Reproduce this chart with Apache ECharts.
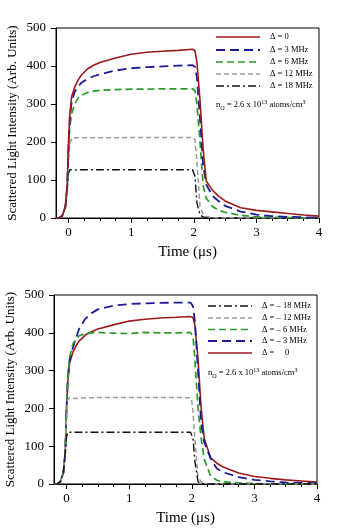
<!DOCTYPE html>
<html>
<head>
<meta charset="utf-8">
<script src="https://cdn.jsdelivr.net/npm/echarts@6/dist/echarts.min.js"></script>
<style>
  html, body { margin: 0; padding: 0; background: #fff; }
  #chart { width: 350px; height: 529px; }
</style>
</head>
<body>
<div id="chart"></div>
<script>
// Scattered light vs time, two detuning panels
var times = [-0.2, -0.15, -0.1, -0.05, -0.02, 0, 0.02, 0.05, 0.1, 0.15, 0.2, 0.3, 0.4, 0.5, 0.75,
  1, 1.25, 1.5, 1.75, 1.98, 2, 2.02, 2.05, 2.1, 2.15, 2.2, 2.3, 2.4, 2.5, 2.75, 3, 3.25, 3.5, 3.75, 4];

// top panel: positive detuning
var topD0  = [0, 0, 6, 30, 85, 200, 270, 320, 345, 362, 375, 392, 402, 409, 421,
  431, 436, 439, 441, 444, 445, 440, 410, 310, 180, 97, 73, 57, 45, 27, 20, 16, 12, 8, 5];
var topD3  = [0, 0, 6, 30, 85, 190, 260, 305, 333, 345, 355, 366, 373, 378, 388,
  394, 397, 399, 401, 402, 401, 398, 370, 260, 140, 88, 58, 44, 32, 17, 9, 5, 3, 2, 1];
var topD6  = [0, 0, 6, 30, 85, 180, 240, 275, 300, 315, 322, 330, 334, 336, 338,
  339, 339, 340, 340, 340, 339, 335, 300, 200, 85, 52, 30, 20, 15, 7, 3, 2, 1, 0.5, 0];
var topD12 = [0, 0, 6, 30, 85, 150, 195, 210, 211, 211, 211, 211, 211, 211, 211,
  212, 212, 212, 212, 212, 210, 205, 150, 30, 10, 4, 1, 0, 0, 0, 0, 0, 0, 0, 0];
var topD18 = [0, 0, 6, 30, 80, 118, 127, 126, 126, 127, 127, 127, 127, 127, 127,
  127, 127, 127, 127, 127, 127, 110, 40, 8, 3, 1, 0, 0, 0, 0, 0, 0, 0, 0, 0];

// bottom panel: negative detuning
var botM18 = [0, 0, 6, 30, 85, 125, 137, 137, 137, 137, 137, 137, 137, 137, 137,
  137, 137, 137, 137, 137, 137, 120, 60, 6, 1, 0, 0, 0, 0, 0, 0, 0, 0, 0, 0];
var botM12 = [0, 0, 6, 30, 85, 170, 222, 229, 227, 226, 227, 228, 228, 229, 229,
  229, 229, 229, 229, 228, 220, 190, 120, 20, 5, 2, 0, 0, 0, 0, 0, 0, 0, 0, 0];
var botM6  = [0, 0, 6, 30, 85, 200, 280, 335, 370, 383, 392, 398, 400, 401, 399,
  398, 401, 400, 400, 401, 398, 390, 330, 200, 120, 65, 22, 10, 6, 3, 1, 0.5, 0, 0, 0];
var botM3  = [0, 0, 6, 30, 85, 200, 280, 330, 360, 385, 410, 437, 452, 462, 472,
  476, 478, 479, 480, 480, 478, 470, 430, 300, 160, 110, 68, 41, 31, 18, 11, 7, 4, 3, 2];
var botD0  = [0, 0, 6, 30, 85, 195, 270, 320, 348, 365, 378, 394, 403, 410, 421,
  431, 436, 439, 441, 443, 444, 440, 420, 330, 200, 120, 70, 55, 45, 29, 20, 15, 11, 8, 5];

var xMajor = [0, 1, 2, 3, 4];
var xMinor = [0.25, 0.5, 0.75, 1.25, 1.5, 1.75, 2.25, 2.5, 2.75, 3.25, 3.5, 3.75];

var serif = '"Liberation Serif", "DejaVu Serif", serif';

var styles = {
  d0:  { color: '#9c1a1a', width: 1.6, type: 'solid' },
  d3:  { color: '#1c1c9a', width: 1.8, type: [9, 5] },
  d6:  { color: '#2a9a2a', width: 1.7, type: [7, 4] },
  d12: { color: '#9a9a9a', width: 1.5, type: [5, 3] },
  d18: { color: '#111111', width: 1.4, type: [8, 3, 2, 3] }
};

var topSeries = [
  { name: 'Δ = 0', data: topD0, st: 'd0' },
  { name: 'Δ = 3 MHz', data: topD3, st: 'd3' },
  { name: 'Δ = 6 MHz', data: topD6, st: 'd6' },
  { name: 'Δ = 12 MHz', data: topD12, st: 'd12' },
  { name: 'Δ = 18 MHz', data: topD18, st: 'd18' }
];
var botSeries = [
  { name: 'Δ = – 18 MHz', data: botM18, st: 'd18' },
  { name: 'Δ = – 12 MHz', data: botM12, st: 'd12' },
  { name: 'Δ = – 6 MHz', data: botM6, st: 'd6' },
  { name: 'Δ = – 3 MHz', data: botM3, st: 'd3' },
  { name: 'Δ =     0', data: botD0, st: 'd0' }
];

function pairs(vals) {
  return times.map(function(t, i) { return [t, vals[i]]; });
}

function makeSeries(list, idx) {
  // draw in reverse so the first legend entry ends on top
  return list.slice().reverse().map(function(s) {
    var st = styles[s.st];
    return {
      name: s.name,
      type: 'line',
      xAxisIndex: idx * 2,
      yAxisIndex: idx,
      data: pairs(s.data),
      showSymbol: false,
      silent: true,
      lineStyle: { color: st.color, width: st.width, type: st.type },
      z: 3
    };
  });
}

function xAxisMain(gi) {
  return {
    type: 'value', gridIndex: gi, min: -0.2, max: 4,
    axisLine: { show: true, onZero: false, lineStyle: { color: '#000', width: 1 } },
    axisTick: { show: true, customValues: xMajor, length: 5, lineStyle: { color: '#000' } },
    axisLabel: { customValues: xMajor, color: '#000', fontFamily: serif, fontSize: 13, margin: 8 },
    splitLine: { show: false },
    name: 'Time (μs)', nameLocation: 'middle', nameGap: 27, nameMoveOverlap: false,
    nameTextStyle: { color: '#000', fontFamily: serif, fontSize: 15 }
  };
}
function xAxisMinor(gi) {
  return {
    type: 'value', gridIndex: gi, min: -0.2, max: 4, position: 'bottom',
    axisLine: { show: false, onZero: false },
    axisTick: { show: true, customValues: xMinor, length: 3, lineStyle: { color: '#000' } },
    axisLabel: { show: false },
    splitLine: { show: false }
  };
}
function yAxisMain(gi) {
  return {
    type: 'value', gridIndex: gi, min: 0, max: 500, interval: 100,
    axisLine: { show: true, onZero: false, lineStyle: { color: '#000', width: 1 } },
    axisTick: { show: true, length: 5, lineStyle: { color: '#000' } },
    axisLabel: { color: '#000', fontFamily: serif, fontSize: 13, margin: 10 },
    splitLine: { show: false },
    name: 'Scattered Light Intensity (Arb. Units)', nameLocation: 'middle', nameGap: 37,
    nameMoveOverlap: false,
    nameTextStyle: { color: '#000', fontFamily: serif, fontSize: 13 }
  };
}

function legendGraphics(list, x0, x1, tx, rows, ny) {
  var els = [];
  list.forEach(function(s, i) {
    var st = styles[s.st];
    els.push({
      type: 'line', silent: true,
      shape: { x1: x0, y1: rows[i], x2: x1, y2: rows[i] },
      style: { stroke: st.color, lineWidth: st.width, lineDash: st.type === 'solid' ? null : st.type }
    });
    els.push({
      type: 'text', silent: true, x: tx, y: rows[i],
      style: { text: s.name, fill: '#000', font: '8.5px ' + serif, verticalAlign: 'middle', align: 'left' }
    });
  });
  els.push({
    type: 'text', silent: true, x: x0, y: ny,
    style: {
      text: '{b|n}{s|O}{b| = 2.6 x 10}{p|13}{b| atoms/cm}{p|3}',
      verticalAlign: 'middle', align: 'left', fill: '#000',
      rich: {
        b: { fontFamily: serif, fontSize: 8.5, lineHeight: 12, fill: '#000' },
        s: { fontFamily: serif, fontSize: 6, lineHeight: 6, verticalAlign: 'bottom', fill: '#000' },
        p: { fontFamily: serif, fontSize: 6, lineHeight: 6, verticalAlign: 'top', fill: '#000' }
      }
    }
  });
  return els;
}

var chart = echarts.init(document.getElementById('chart'), null, { renderer: 'canvas' });
chart.setOption({
  animation: false,
  backgroundColor: '#fff',
  grid: [
    { left: 56, top: 28, width: 263, height: 190, show: true, borderColor: '#000', borderWidth: 1,
      containLabel: false, outerBoundsMode: 'none' },
    { left: 54, top: 295, width: 263, height: 189, show: true, borderColor: '#000', borderWidth: 1,
      containLabel: false, outerBoundsMode: 'none' }
  ],
  xAxis: [xAxisMain(0), xAxisMinor(0), xAxisMain(1), xAxisMinor(1)],
  yAxis: [yAxisMain(0), yAxisMain(1)],
  series: makeSeries(topSeries, 0).concat(makeSeries(botSeries, 1)),
  graphic: legendGraphics(topSeries, 216, 260, 270, [37, 50, 62, 74, 86], 105)
    .concat(legendGraphics(botSeries, 208, 252, 262, [306, 318, 329.5, 341, 353], 373))
});
</script>
</body>
</html>
